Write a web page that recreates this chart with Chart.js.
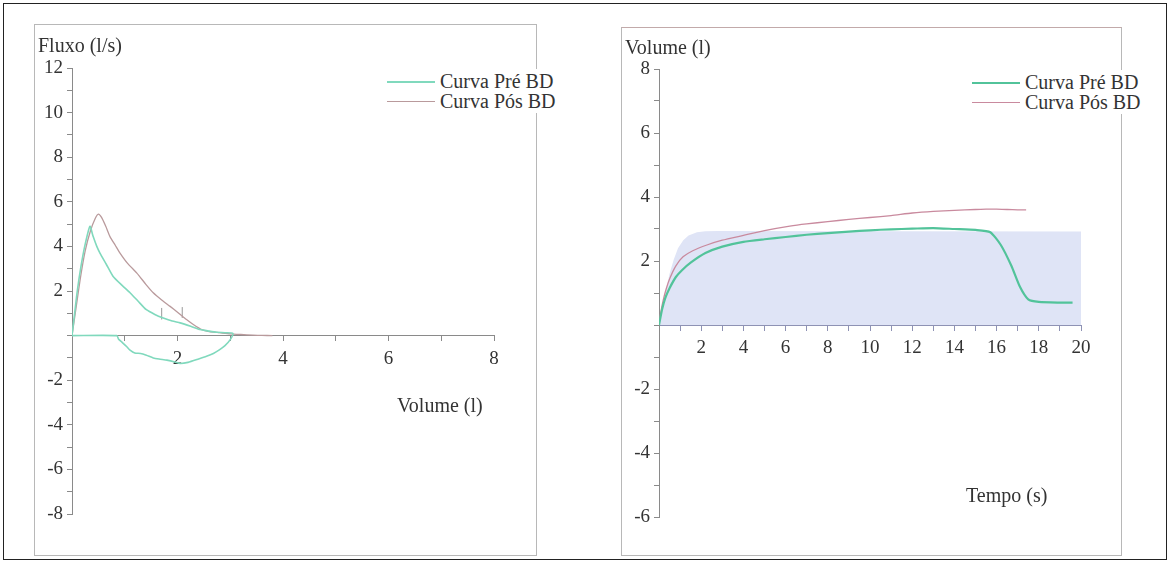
<!DOCTYPE html>
<html>
<head>
<meta charset="utf-8">
<script src="https://cdn.jsdelivr.net/npm/chart.js@4.4.1/dist/chart.umd.min.js"></script>
<style>
  body { margin: 0; width: 1170px; height: 563px; background: #fff; position: relative; overflow: hidden;
         font-family: 'Liberation Serif', serif; color: #333; }
  .frame { position: absolute; left: 3px; top: 3px; width: 1162px; height: 555px; border: 1px solid #222; }
  .panel { position: absolute; border: 1px solid #b8b8b8; box-sizing: border-box; }
  canvas { position: absolute; }
  .lbl { position: absolute; font-size: 20px; line-height: 20px; white-space: nowrap; }
  .legend { position: absolute; background: #fff; padding: 2px 0; }
  .legend div { position: relative; height: 20px; font-size: 20px; line-height: 20px; padding-left: 53px; white-space: nowrap; }
  .legend span { position: absolute; left: 0; top: 10px; width: 48px; }
</style>
</head>
<body>
<div class="frame"></div>
<div class="panel" style="left:34px;top:24px;width:503px;height:532px"></div>
<div class="panel" style="left:621px;top:27px;width:501px;height:529px;border-top-color:#c2aaaa"></div>

<canvas id="fluxoVolume" width="502" height="531" style="left:34px;top:24px"></canvas>
<canvas id="volumeTempo" width="500" height="528" style="left:621px;top:27px"></canvas>

<div class="lbl" style="left:38px;top:35px">Fluxo (l/s)</div>
<div class="lbl" style="left:397px;top:395px">Volume (l)</div>
<div class="legend" id="legendFV" style="left:387px;top:69px"></div>

<div class="lbl" style="left:625px;top:37px">Volume (l)</div>
<div class="lbl" style="left:966px;top:485px">Tempo (s)</div>
<div class="legend" id="legendVT" style="left:972px;top:70px"></div>

<script>
// séries
const seriesLabels = ['Curva Pré BD', 'Curva Pós BD'];

// curva fluxo-volume, antes do broncodilatador (expiração + inspiração)
const fvPreVolume = [0, 0.05, 0.1, 0.17, 0.25, 0.34, 0.4, 0.47, 0.53, 0.65, 0.78, 0.95, 1.1, 1.25, 1.41, 1.57,
  1.73, 1.9, 2.05, 2.25, 2.43, 2.6, 2.74, 2.9, 3.05, 3.0, 2.9, 2.8, 2.68, 2.55, 2.4, 2.2, 2.05, 1.95, 1.8,
  1.65, 1.54, 1.41, 1.3, 1.19, 1.1, 1.04, 0.95, 0.88, 0.85, 0];
const fvPreFlow = [0, 1.0, 2.0, 3.1, 4.1, 4.9, 4.45, 4.0, 3.7, 3.2, 2.65, 2.25, 1.92, 1.55, 1.16, 0.95,
  0.79, 0.65, 0.57, 0.42, 0.27, 0.2, 0.15, 0.13, 0.1, -0.18, -0.45, -0.63, -0.8, -0.93, -1.05, -1.2, -1.25, -1.18, -1.1,
  -1.05, -1.0, -0.88, -0.8, -0.78, -0.65, -0.5, -0.3, -0.15, 0, 0];

// curva fluxo-volume, depois do broncodilatador
const fvPosVolume = [0, 0.08, 0.16, 0.25, 0.35, 0.44, 0.5, 0.56, 0.64, 0.72, 0.82, 0.91, 1.05, 1.23, 1.4, 1.54,
  1.7, 1.86, 2.0, 2.17, 2.3, 2.46, 2.6, 2.8, 3.0, 3.2, 3.43, 3.6, 3.8];
const fvPosFlow = [0, 1.3, 2.6, 3.8, 4.7, 5.25, 5.45, 5.3, 4.9, 4.44, 4.05, 3.7, 3.25, 2.8, 2.3, 1.92,
  1.6, 1.31, 1.05, 0.72, 0.5, 0.27, 0.18, 0.13, 0.08, 0.05, 0.02, 0.01, 0];

// marcas verticais sobre as curvas
const markVolume = [1.70, 2.09];
const markFlowLow = [0.72, 0.79];
const markFlowHigh = [1.24, 1.28];

// curva volume-tempo
const vtPreTime = [0, 0.15, 0.3, 0.5, 0.8, 1.1, 1.5, 2.2, 3, 4, 5, 6, 7, 8, 9, 10, 11, 12, 13, 14, 15,
  15.7, 16.2, 16.7, 17.1, 17.5, 18, 19, 19.6];
const vtPreVolume = [0, 0.5, 0.85, 1.15, 1.5, 1.72, 1.95, 2.25, 2.45, 2.6, 2.68, 2.75, 2.82, 2.87, 2.92, 2.96, 2.99, 3.01, 3.03, 3.0, 2.97,
  2.9, 2.5, 1.85, 1.2, 0.8, 0.72, 0.7, 0.7];
const vtPosTime = [0, 0.1, 0.2, 0.35, 0.52, 0.8, 1.14, 1.6, 2.27, 3, 4, 5, 6.2, 7, 8, 9, 10, 11, 12, 13, 14, 15,
  15.5, 16, 16.5, 17, 17.4];
const vtPosVolume = [0, 0.45, 0.78, 1.15, 1.47, 1.85, 2.13, 2.32, 2.5, 2.65, 2.8, 2.95, 3.09, 3.16, 3.23, 3.3, 3.36, 3.42, 3.5, 3.55, 3.58, 3.61,
  3.62, 3.62, 3.61, 3.6, 3.6];
// faixa de referência sombreada
const vtRefTime = [0, 0.15, 0.3, 0.5, 0.7, 0.9, 1.15, 1.4, 1.8, 2.2, 2.8, 20, 20];
const vtRefVolume = [0, 0.6, 1.0, 1.6, 2.05, 2.4, 2.65, 2.8, 2.9, 2.93, 2.94, 2.92, 0];

// rótulos dos eixos
const fluxoTicks = [12, 10, 8, 6, 4, 2, -2, -4, -6, -8];
const volumeXTicks = [2, 4, 6, 8];
const volumeYTicks = [8, 6, 4, 2, -2, -4, -6];
const tempoTicks = [2, 4, 6, 8, 10, 12, 14, 16, 18, 20];

const pts = (xs, ys) => xs.map((x, i) => ({ x, y: ys[i] }));
const fontFamily = 'Liberation Serif';
const tickFont = { family: fontFamily, size: 19, style: 'normal', weight: 'normal' };

function axes(xMin, xMax, yMin, yMax, xLabels, yLabels, xColor, yColor) {
  return {
    x: {
      type: 'linear', position: { y: 0 }, min: xMin, max: xMax,
      ticks: { stepSize: 1, autoSkip: false, maxRotation: 0, padding: 7, color: '#333', font: tickFont,
        callback: v => xLabels.includes(v) ? String(v) : '' },
      grid: { drawOnChartArea: false, drawTicks: true, tickLength: 5, color: xColor },
      border: { color: xColor, width: 1 }
    },
    y: {
      type: 'linear', position: 'left', min: yMin, max: yMax,
      afterFit: s => { s.width = 38; },
      ticks: { stepSize: 1, autoSkip: false, padding: 4, color: '#333', font: tickFont,
        callback: v => yLabels.includes(v) ? String(v) : '' },
      grid: { drawOnChartArea: false, drawTicks: true, tickLength: 5, color: yColor },
      border: { color: yColor, width: 1 }
    }
  };
}

const line = (data, color, width) => ({
  data, borderColor: color, borderWidth: width, pointRadius: 0, showLine: true, tension: 0.2, fill: false
});

const baseOptions = {
  responsive: false, animation: false, events: [],
  plugins: { legend: { display: false }, tooltip: { enabled: false } }
};

const fvColors = ['#80d9bd', '#b99a9c'];
const vtColors = ['#52c39a', '#c98a9e'];

Chart.defaults.font.family = fontFamily;
Chart.defaults.font.size = 19;

function drawCharts() {
  // fluxo x volume
  new Chart(document.getElementById('fluxoVolume'), {
    type: 'scatter',
    data: {
      datasets: [
        line(pts(fvPreVolume, fvPreFlow), fvColors[0], 1.6),
        line(pts(fvPosVolume, fvPosFlow), fvColors[1], 1.3),
        ...markVolume.map((v, i) => ({ ...line([{ x: v, y: markFlowLow[i] }, { x: v, y: markFlowHigh[i] }], '#999', 1), tension: 0 }))
      ]
    },
    options: {
      ...baseOptions,
      layout: { padding: { left: 0, top: 44, right: 42, bottom: 41 } },
      scales: axes(0, 8, -8, 12, volumeXTicks, fluxoTicks, '#8a8a8a', '#8a8a8a')
    }
  });

  // volume x tempo
  new Chart(document.getElementById('volumeTempo'), {
    type: 'scatter',
    data: {
      datasets: [
        line(pts(vtPreTime, vtPreVolume), vtColors[0], 2.2),
        line(pts(vtPosTime, vtPosVolume), vtColors[1], 1.3),
        { ...line(pts(vtRefTime, vtRefVolume), 'rgba(0,0,0,0)', 0), fill: 'origin',
          backgroundColor: '#dfe4f6', tension: 0, order: 5 }
      ]
    },
    options: {
      ...baseOptions,
      layout: { padding: { left: 0, top: 42, right: 40, bottom: 38 } },
      scales: axes(0, 20, -6, 8, tempoTicks, volumeYTicks, '#8e92b4', '#8a8a8a')
    }
  });
}

// legendas
function legend(id, colors, widths) {
  const box = document.getElementById(id);
  seriesLabels.forEach((label, i) => {
    const row = document.createElement('div');
    row.textContent = label;
    const mark = document.createElement('span');
    mark.style.borderTop = widths[i] + 'px solid ' + colors[i];
    row.appendChild(mark);
    box.appendChild(row);
  });
}
legend('legendFV', fvColors, [2, 1]);
legend('legendVT', vtColors, [2, 1]);

window.addEventListener('load', () => {
  document.fonts.load('19px "Liberation Serif"').then(drawCharts, drawCharts);
});
</script>
</body>
</html>
